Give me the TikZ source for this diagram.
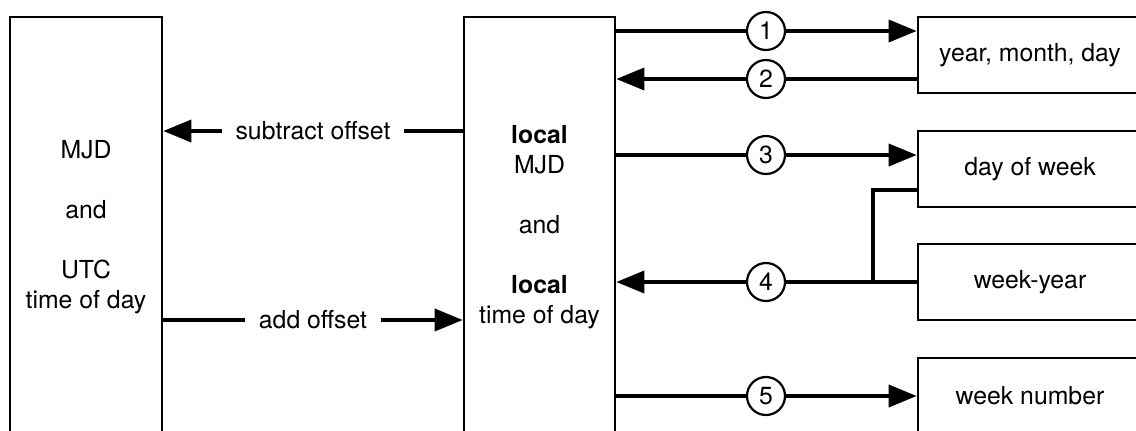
\documentclass[tikz,border=0pt]{standalone}
\usepackage{fontspec}
\setmainfont{TeX Gyre Heros}
\usetikzlibrary{arrows.meta}
\begin{document}
\begin{tikzpicture}[x=0.5pt,y=-0.5pt,
  every node/.style={font=\fontsize{12.4}{15}\selectfont},
  bigbox/.style={draw,line width=1.3pt,rectangle,inner sep=0pt,align=center},
  num/.style={draw,circle,line width=1.1pt,minimum size=19pt,inner sep=0pt,fill=white},
  conn/.style={line width=1.8pt},
  arr/.style={line width=1.8pt,-{Triangle[length=14pt,width=11pt]}},
  lbl/.style={fill=white,inner xsep=7pt,inner ysep=2pt}]
\useasboundingbox (0,0) rectangle (1136,430);
% boxes
\node[bigbox,minimum width=76pt,minimum height=210pt] (utc) at (86,227)
  {MJD\\[15pt]and\\[15pt]UTC\\time of day};
\node[bigbox,minimum width=75.5pt,minimum height=210pt] (loc) at (539.5,227)
  {\textbf{local}\\MJD\\[15pt]and\\[15pt]\textbf{local}\\time of day};
\node[bigbox,minimum width=112pt,minimum height=38pt] (ymd) at (1030,55) {year, month, day};
\node[bigbox,minimum width=112pt,minimum height=38pt] (dow) at (1030,169) {day of week};
\node[bigbox,minimum width=112pt,minimum height=38pt] (wy) at (1030,282) {week-year};
\node[bigbox,minimum width=112pt,minimum height=38pt] (wn) at (1030,396) {week number};
% levels
\coordinate (ysub) at (0,131);
\coordinate (yadd) at (0,320);
\coordinate (ybr) at (873,190);
% circled numbers
\node[num] (n1) at (766,31) {1};
\node[num] (n2) at (766,79) {2};
\node[num] (n3) at (766,155) {3};
\node[num] (n4) at (766,282) {4};
\node[num] (n5) at (766,396) {5};
% offset arrows
\draw[arr] (loc.west|-ysub) -- node[lbl] {subtract offset} (utc.east|-ysub);
\draw[arr] (utc.east|-yadd) -- node[lbl] {add offset} (loc.west|-yadd);
% numbered arrows
\draw[conn] (loc.east|-n1) -- (n1.west);
\draw[arr] (n1.east) -- (ymd.west|-n1);
\draw[conn] (ymd.west|-n2) -- (n2.east);
\draw[arr] (n2.west) -- (loc.east|-n2);
\draw[conn] (loc.east|-n3) -- (n3.west);
\draw[arr] (n3.east) -- (dow.west|-n3);
\draw[conn] (wy.west|-n4) -- (n4.east);
\draw[arr] (n4.west) -- (loc.east|-n4);
\draw[conn] (dow.west|-ybr) -- (ybr) -- (ybr|-n4);
\draw[conn] (loc.east|-n5) -- (n5.west);
\draw[arr] (n5.east) -- (wn.west|-n5);
\end{tikzpicture}
\end{document}
